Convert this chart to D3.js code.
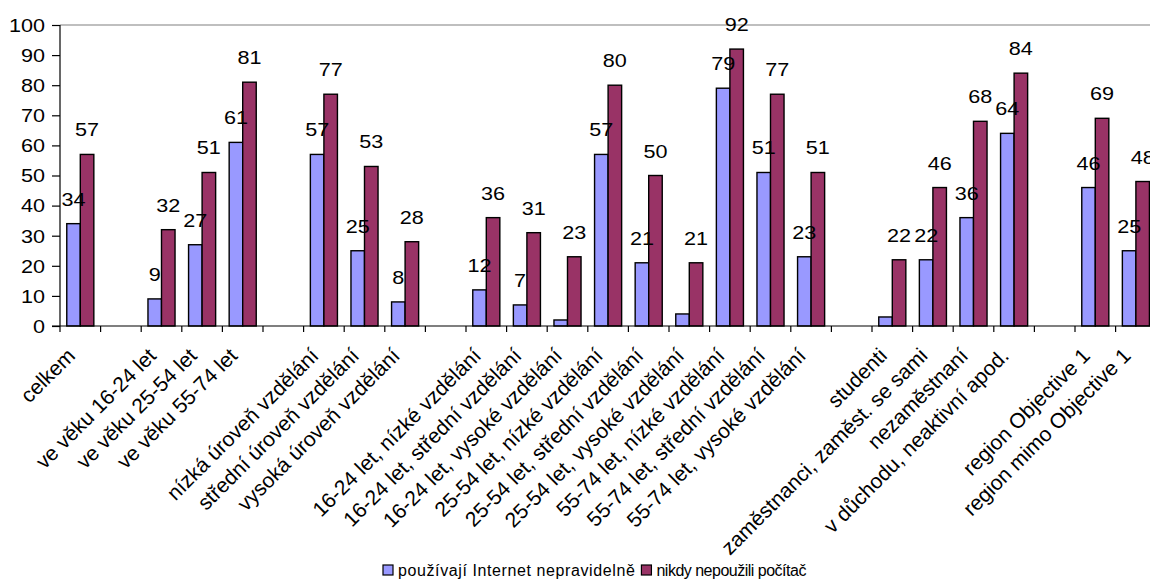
<!DOCTYPE html>
<html>
<head>
<meta charset="utf-8">
<script src="https://cdn.jsdelivr.net/npm/d3@7/dist/d3.min.js"></script>
<style>
  html, body { margin: 0; padding: 0; background: #fff; }
  svg { display: block; font-family: "Liberation Sans", Arial, sans-serif; }
</style>
</head>
<body>
<svg id="chart" width="1150" height="581"></svg>
<script>
// Category labels along the x axis; empty strings are spacer slots between groups
const categories = [
  "celkem", "",
  "ve věku 16-24 let", "ve věku 25-54 let", "ve věku 55-74 let", "",
  "nízká úroveň vzdělání", "střední úroveň vzdělání", "vysoká úroveň vzdělání", "",
  "16-24 let, nízké vzdělání", "16-24 let, střední vzdělání", "16-24 let, vysoké vzdělání",
  "25-54 let, nízké vzdělání", "25-54 let, střední vzdělání", "25-54 let, vysoké vzdělání",
  "55-74 let, nízké vzdělání", "55-74 let, střední vzdělání", "55-74 let, vysoké vzdělání", "",
  "studenti", "zaměstnanci, zaměst. se sami", "nezaměstnaní", "v důchodu, neaktivní apod.", "",
  "region Objective 1", "region mimo Objective 1"
];

// Series values (percent); null = spacer slot
const irregularUse = [
  34, null,
  9, 27, 61, null,
  57, 25, 8, null,
  12, 7, 2, 57, 21, 4, 79, 51, 23, null,
  3, 22, 36, 64, null,
  46, 25
];
const neverUsed = [
  57, null,
  32, 51, 81, null,
  77, 53, 28, null,
  36, 31, 23, 80, 50, 21, 92, 77, 51, null,
  22, 46, 68, 84, null,
  69, 48
];

// Categories whose first-series value carries no data label
const unlabeledIrregular = ["16-24 let, vysoké vzdělání", "25-54 let, vysoké vzdělání", "studenti"];

const seriesNames = ["používají Internet nepravidelně", "nikdy nepoužili počítač"];
const seriesColors = ["#9999FF", "#993366"];
const yTicks = [0, 10, 20, 30, 40, 50, 60, 70, 80, 90, 100];

const svg = d3.select("#chart");
const W = 1150, H = 581;
const plot = { left: 60, top: 25, bottom: 326, step: 40.6 };
const plotRight = plot.left + plot.step * categories.length;
const numFont = 18, numStretch = 1.2;   // numbers are drawn slightly widened

const x = d3.scaleBand()
  .domain(d3.range(categories.length))
  .range([plot.left, plotRight])
  .paddingInner(0).paddingOuter(0);

const xs = d3.scaleBand()
  .domain([0, 1])
  .range([0, x.bandwidth()])
  .paddingInner(0).paddingOuter(0.5);

const y = d3.scaleLinear().domain([0, 100]).range([plot.bottom, plot.top]);

// top border of the plot area
svg.append("line")
  .attr("x1", plot.left).attr("x2", W)
  .attr("y1", y(100)).attr("y2", y(100))
  .attr("stroke", "#808080").attr("stroke-width", 1.2);

// bars
const rows = categories.map((c, i) => ({ i, c, vals: [irregularUse[i], neverUsed[i]] }));
const groups = svg.append("g").selectAll("g")
  .data(rows).join("g")
  .attr("transform", d => `translate(${x(d.i)},0)`);

groups.selectAll("rect")
  .data(d => d.vals.map((v, s) => ({ v, s })).filter(e => e.v !== null))
  .join("rect")
  .attr("x", e => xs(e.s))
  .attr("width", xs.bandwidth())
  .attr("y", e => y(e.v))
  .attr("height", e => y(0) - y(e.v))
  .attr("fill", e => seriesColors[e.s])
  .attr("stroke", "#000").attr("stroke-width", 1.4);

// data labels
groups.selectAll("text")
  .data(d => d.vals.map((v, s) => ({ v, s, c: d.c }))
    .filter(e => e.v !== null && !(e.s === 0 && unlabeledIrregular.includes(e.c))))
  .join("text")
  .attr("transform", e => `translate(${xs(e.s) + xs.bandwidth() / 2},${y(e.v) - 18}) scale(${numStretch},1)`)
  .attr("text-anchor", "middle")
  .attr("font-size", numFont)
  .attr("fill", "#000")
  .text(e => e.v);

// y axis
const yAxis = d3.axisLeft(y).tickValues(yTicks).tickSize(8).tickPadding(7).tickFormat(d3.format("d"));
const gy = svg.append("g").attr("transform", `translate(${plot.left},0)`).call(yAxis);
gy.select(".domain").attr("stroke", "#000").attr("stroke-width", 1.2).attr("d", `M0,${plot.top}V${plot.bottom}`);
gy.selectAll(".tick line").attr("stroke", "#000").attr("stroke-width", 1.2);
gy.selectAll(".tick text")
  .attr("font-size", numFont)
  .attr("font-family", "Liberation Sans, Arial, sans-serif")
  .attr("fill", "#000")
  .attr("x", null).attr("dy", null)
  .attr("dominant-baseline", "central")
  .attr("transform", `translate(-15,0) scale(${numStretch},1)`);

// x axis: ticks at category boundaries
const xAxisG = svg.append("g").attr("transform", `translate(0,${plot.bottom})`);
xAxisG.append("line")
  .attr("x1", plot.left - 8).attr("x2", W)
  .attr("stroke", "#000").attr("stroke-width", 1.2);
xAxisG.selectAll("line.tk")
  .data(d3.range(categories.length + 1))
  .join("line").attr("class", "tk")
  .attr("x1", i => plot.left + i * x.step()).attr("x2", i => plot.left + i * x.step())
  .attr("y1", 0).attr("y2", 6)
  .attr("stroke", "#000").attr("stroke-width", 1.2);

xAxisG.selectAll("text")
  .data(rows.filter(d => d.c !== ""))
  .join("text")
  .attr("transform", d => `translate(${x(d.i) + x.bandwidth() / 2 - 4},31) rotate(-45)`)
  .attr("text-anchor", "end")
  .attr("font-size", 21)
  .attr("fill", "#000")
  .text(d => d.c);

// legend
const legend = svg.append("g");
const items = legend.selectAll("g").data(seriesNames).join("g");
items.append("rect")
  .attr("width", 10).attr("height", 10)
  .attr("fill", (d, i) => seriesColors[i])
  .attr("stroke", "#000").attr("stroke-width", 1.2);
items.append("text")
  .attr("x", 15).attr("y", 11)
  .attr("font-size", 16).attr("fill", "#000")
  .attr("letter-spacing", (d, i) => i === 0 ? 0.6 : -0.5)
  .text(d => d);
let offset = 0;
items.each(function () {
  d3.select(this).attr("transform", `translate(${offset},0)`);
  offset += this.getBBox().width + 6;
});
legend.attr("transform", `translate(${383},565)`);
</script>
</body>
</html>
